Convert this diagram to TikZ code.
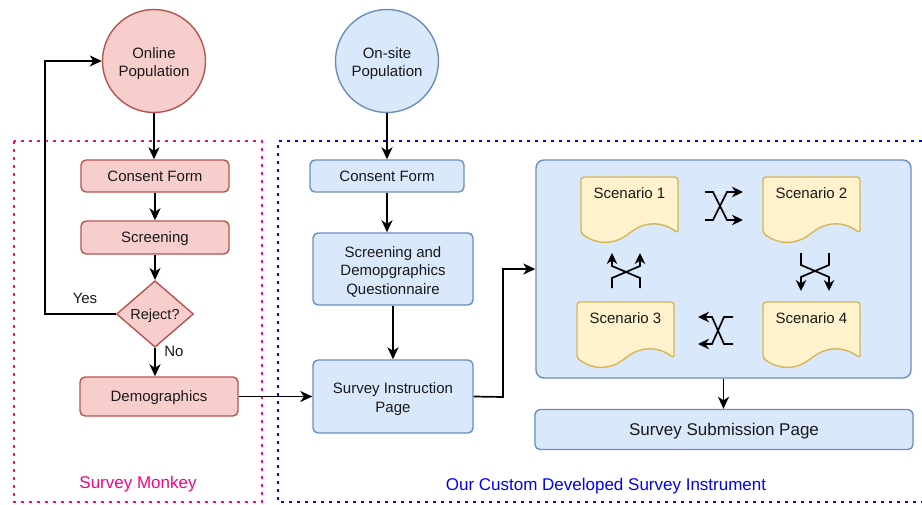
\documentclass[tikz,border=0pt]{standalone}
\usepackage{fontspec}
\setmainfont{Liberation Sans}
\usetikzlibrary{arrows.meta,shapes.geometric}
\definecolor{redfill}{HTML}{F8CECC}
\definecolor{redline}{HTML}{B85450}
\definecolor{bluefill}{HTML}{DAE8FC}
\definecolor{blueline}{HTML}{6C8EBF}
\definecolor{docfill}{HTML}{FFF2CC}
\definecolor{docline}{HTML}{D6B656}
\definecolor{pinkdot}{HTML}{FF0080}
\definecolor{bluedot}{HTML}{0000FF}
\newcommand\toprule{\rule{0pt}{0.9465em}}
\newcommand\botrule{\rule[-0.2535em]{0pt}{0pt}}
\newcommand\mlt[1]{\raisebox{-3pt}[\height][\depth]{\begin{tabular}{@{}c@{}}#1\end{tabular}}}
\newcommand\scdoc[4]{%
  \draw[docst] (#2,#3+20) -- (#2,#3) -- (#2+97,#3) -- (#2+97,#3+56.1)
    .. controls (#2+80.83,#3+44.22) and (#2+64.67,#3+44.22) .. (#2+48.5,#3+56.1)
    .. controls (#2+32.33,#3+67.98) and (#2+16.17,#3+67.98) .. (#2,#3+56.1) -- cycle;
  \node[base] (#1) at (#2+48.5,#3+16.5) {#4};}
\begin{document}
\begin{tikzpicture}[x=1pt,y=-1pt,
  base/.style={font=\fontsize{15}{18.5}\selectfont, align=center, inner sep=0pt, text=black!90,
    execute at begin node=\toprule, execute at end node=\botrule},
  redbox/.style={base, draw=redline, fill=redfill, line width=1.4pt, rounded corners=5pt},
  bluebox/.style={base, draw=blueline, fill=bluefill, line width=1.4pt, rounded corners=5pt},
  docst/.style={draw=docline, fill=docfill, line width=1.4pt, rounded corners=3pt},
  conn/.style={line width=1.7pt, -{Stealth[length=12pt,width=11pt,inset=3.5pt]}},
  xarr/.style={line width=1.7pt, -{Stealth[length=11pt,width=10.5pt,inset=3.5pt]}},
  dotbox/.style={line width=2.6pt, dash pattern=on 2.6pt off 5.4pt},
  lbl/.style={font=\fontsize{17}{20}\selectfont, inner sep=0pt}]
\useasboundingbox (0,0) rectangle (922,504);

% dotted containers
\draw[dotbox, draw=pinkdot] (14,141) rectangle (262,502);
\draw[dotbox, draw=bluedot] (922,141) -- (278,141) -- (278,502) -- (922,502);
\node[lbl, text=pinkdot] (smlabel) at (138,484) {Survey Monkey};
\node[lbl, text=bluedot] (oclabel) at (606,486) {Our Custom Developed Survey Instrument};

% left column
\node[base, circle, draw=redline, fill=redfill, line width=1.4pt, minimum size=103pt] (online) at (154,61) {\mlt{Online\\Population}};
\node[redbox, minimum width=148pt, minimum height=32pt] (cf1) at (155,176) {Consent Form};
\node[redbox, minimum width=148pt, minimum height=33pt] (scr1) at (155,237.5) {Screening};
\node[base, diamond, draw=redline, fill=redfill, line width=1.4pt, minimum width=77pt, minimum height=50pt, font=\fontsize{14.5}{17}\selectfont] (rej) at (155,314) {Reject?};
\node[redbox, minimum width=158pt, minimum height=39pt] (demo) at (159,396.5) {Demographics};
\coordinate (loopx) at (45,314);

\draw[conn] (online) -- (online |- cf1.north);
\draw[conn] (cf1.south) -- (cf1.south |- scr1.north);
\draw[conn] (scr1.south) -- (rej.north);
\draw[conn] (rej.south) -- (rej.south |- demo.north);
\draw[conn] (rej.west) -- (loopx) |- (online.west);
\node[base] (yes) at (85,298) {Yes};
\node[base] (no) at (174,351) {No};

% middle column
\node[base, circle, draw=blueline, fill=bluefill, line width=1.4pt, minimum size=103pt] (onsite) at (387,61) {\mlt{On-site\\Population}};
\node[bluebox, minimum width=154pt, minimum height=32pt] (cf2) at (387,176) {Consent Form};
\node[bluebox, minimum width=160pt, minimum height=72pt] (sdq) at (393,269) {\mlt{Screening and\\Demopgraphics\\Questionnaire}};
\node[bluebox, minimum width=160pt, minimum height=73pt] (sip) at (393,396.5) {\mlt{Survey Instruction\\Page}};
\coordinate (turn) at (503,397);

\draw[conn] (onsite) -- (onsite |- cf2.north);
\draw[conn] (cf2.south) -- (cf2.south |- sdq.north);
\draw[conn] (sdq.south) -- (sip.north);
\draw[conn] (demo.east) -- (demo.east -| sip.west);

% right block
\node[bluebox, rounded corners=8pt, minimum width=375pt, minimum height=218pt] (big) at (723.5,269) {};
\node[bluebox, minimum width=378pt, minimum height=40pt, font=\fontsize{17}{20}\selectfont] (sub) at (724,429.5) {Survey Submission Page};
\draw[conn] (sip.east) -- (turn) |- (big.west);
\draw[conn] (big.south) -- (big.south |- sub.north);

\scdoc{s1}{581}{177}{Scenario 1}
\scdoc{s2}{763}{177}{Scenario 2}
\scdoc{s3}{577}{302}{Scenario 3}
\scdoc{s4}{763}{302}{Scenario 4}

% crossed arrows
\draw[xarr] (705,192) -- (713,192) -- (727,220) -- (743,220);
\draw[xarr] (705,220) -- (713,220) -- (727,192) -- (743,192);
\draw[xarr] (801,253) -- (801,265) -- (829,277) -- (829,291);
\draw[xarr] (829,253) -- (829,265) -- (801,277) -- (801,291);
\draw[xarr] (733,317) -- (724,317) -- (712,344) -- (698,344);
\draw[xarr] (733,344) -- (724,344) -- (712,317) -- (698,317);
\draw[xarr] (612,288) -- (612,278) -- (640,266) -- (640,253);
\draw[xarr] (640,288) -- (640,278) -- (612,266) -- (612,253);
\end{tikzpicture}
\end{document}
